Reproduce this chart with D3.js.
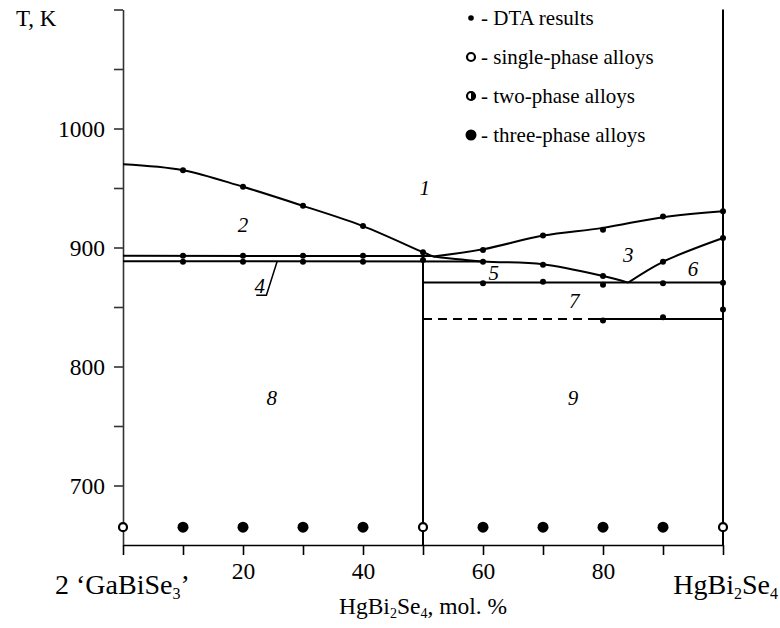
<!DOCTYPE html>
<html>
<head>
<meta charset="utf-8">
<script src="https://cdn.jsdelivr.net/npm/d3@7"></script>
<style>
  html, body { margin: 0; padding: 0; background: #fff; }
  svg { display: block; font-family: "Liberation Serif", "DejaVu Serif", serif; }
</style>
</head>
<body>
<svg id="chart" width="780" height="628"></svg>
<script>
// Phase diagram of the 2'GaBiSe3' – HgBi2Se4 section

// axis ticks
const xTicks = [0, 10, 20, 30, 40, 50, 60, 70, 80, 90, 100];
const xTickLabels = [20, 40, 60, 80];
const yTicks = [700, 750, 800, 850, 900, 950, 1000, 1050, 1100];
const yTickLabels = [700, 800, 900, 1000];

// phase boundaries: [mol.% HgBi2Se4, T in K]
const liquidusLeft  = [[0, 970], [10, 965], [20, 951], [30, 935], [40, 918], [50, 896], [51.7, 892.5]];
const liquidusRight = [[51.7, 892.5], [60, 898.5], [70, 910], [80, 916.5], [90, 925.5], [100, 930.5]];
const solidusRight  = [[51.7, 892.5], [60, 888.3], [70, 886], [80, 876], [84.2, 870.5]];
const curveRight    = [[84.2, 870.5], [90, 888], [100, 908]];
const upperLine     = [[0, 893], [51.7, 892.8]];
const lowerLine     = [[0, 888.5], [60, 888.3]];
const line870       = [[50, 870.5], [100, 870.5]];
const line840Dashed = [[50, 840], [78, 840]];
const line840Solid  = [[78, 840], [100, 840]];
const vertical50    = [[50, 896], [50, 650]];
const vertical100   = [[100, 650], [100, 1100]];

// DTA thermal effects
const dtaPoints = [
  [10, 965], [20, 951], [30, 935], [40, 918], [50, 896],
  [10, 893], [20, 893], [30, 893], [40, 893],
  [10, 888], [20, 888], [30, 888], [40, 888], [50, 889.5],
  [60, 898], [70, 910], [80, 915], [90, 926], [100, 930.5],
  [60, 888], [70, 885.5], [80, 876],
  [90, 888], [100, 908],
  [60, 870], [70, 871.3], [80, 868.7], [90, 870], [100, 870.3],
  [80, 838.6], [90, 841.4], [100, 848]
];

// XRD of annealed alloys
const alloyX     = [0, 10, 20, 30, 40, 50, 60, 70, 80, 90, 100];
const alloyT     = 665;
const alloyPhase = ["single", "three", "three", "three", "three", "single", "three", "three", "three", "three", "single"];

// phase field numbers
const fieldNames = ["1", "2", "3", "4", "5", "6", "7", "8", "9"];
const fieldX     = [50.3, 20, 84.2, 22.8, 61.8, 95, 75.2, 24.8, 75];
const fieldT     = [950, 919, 894, 868, 879, 882, 855, 774, 774];

const legendLabels = ["- DTA results", "- single-phase alloys", "- two-phase alloys", "- three-phase alloys"];
const legendKinds  = ["dta", "single", "two", "three"];

const svg = d3.select("#chart");
const x = d3.scaleLinear().domain([0, 100]).range([123, 723]);
const y = d3.scaleLinear().domain([650, 1100]).range([545, 9.5]);

const ink = "#000";
const serif = "Liberation Serif, DejaVu Serif, serif";

// axes
const yAxis = d3.axisLeft(y).tickValues(yTicks).tickSize(9).tickSizeOuter(0)
  .tickFormat(d => yTickLabels.includes(d) ? d : "");
const gy = svg.append("g").attr("transform", `translate(${x(0)},0)`).call(yAxis)
  .attr("font-family", serif);
gy.select(".domain").attr("stroke", "#333").attr("stroke-width", 1.6);
gy.selectAll(".tick line").attr("stroke", "#333").attr("stroke-width", 1.6);
gy.selectAll(".tick text").attr("font-size", 23.5).attr("fill", ink)
  .attr("x", -18).attr("dy", "0.36em");

const xAxis = d3.axisBottom(x).tickValues(xTicks).tickSize(10).tickSizeOuter(0)
  .tickFormat(d => xTickLabels.includes(d) ? d : "");
const gx = svg.append("g").attr("transform", `translate(0,${y(650)})`).call(xAxis)
  .attr("font-family", serif);
gx.select(".domain").attr("stroke", ink).attr("stroke-width", 1.6);
gx.selectAll(".tick line").attr("stroke", ink).attr("stroke-width", 1.6);
gx.selectAll(".tick text").attr("font-size", 23.5).attr("fill", ink).attr("y", 17);

// phase boundary lines
const straight = d3.line().x(d => x(d[0])).y(d => y(d[1]));
const smooth = d3.line().x(d => x(d[0])).y(d => y(d[1])).curve(d3.curveCatmullRom.alpha(0.5));

const lines = [
  [liquidusLeft, smooth, null],
  [liquidusRight, smooth, null],
  [solidusRight, smooth, null],
  [curveRight, smooth, null],
  [upperLine, straight, null],
  [lowerLine, straight, null],
  [line870, straight, null],
  [line840Dashed, straight, "9,6"],
  [line840Solid, straight, null],
  [vertical50, straight, null],
  [vertical100, straight, null]
];
svg.append("g").selectAll("path").data(lines).join("path")
  .attr("d", d => d[1](d[0]))
  .attr("fill", "none")
  .attr("stroke", ink)
  .attr("stroke-width", 2)
  .attr("stroke-dasharray", d => d[2]);

// DTA points
svg.append("g").selectAll("circle").data(dtaPoints).join("circle")
  .attr("cx", d => x(d[0])).attr("cy", d => y(d[1])).attr("r", 3).attr("fill", ink);

// phase composition markers
function marker(g, kind, cx, cy) {
  if (kind === "single") {
    g.append("circle").attr("cx", cx).attr("cy", cy).attr("r", 4).attr("fill", "#fff")
      .attr("stroke", ink).attr("stroke-width", 2.2);
  } else if (kind === "three") {
    g.append("circle").attr("cx", cx).attr("cy", cy).attr("r", 5.5).attr("fill", ink);
  } else if (kind === "two") {
    g.append("circle").attr("cx", cx).attr("cy", cy).attr("r", 4).attr("fill", "#fff")
      .attr("stroke", ink).attr("stroke-width", 2.2);
    g.append("path").attr("d", d3.arc()({innerRadius: 0, outerRadius: 4.5, startAngle: 0, endAngle: Math.PI}))
      .attr("transform", `translate(${cx},${cy})`).attr("fill", ink);
  } else {
    g.append("circle").attr("cx", cx).attr("cy", cy).attr("r", 2.8).attr("fill", ink);
  }
}
const gm = svg.append("g");
alloyX.forEach((v, i) => marker(gm, alloyPhase[i], x(v), y(alloyT)));

// phase field numbers
svg.append("g").selectAll("text").data(fieldNames).join("text")
  .attr("x", (d, i) => x(fieldX[i])).attr("y", (d, i) => y(fieldT[i]))
  .attr("dy", "0.35em").attr("text-anchor", "middle")
  .attr("font-size", 21).attr("font-style", "italic").attr("fill", ink)
  .text(d => d);

// leader for field 4
svg.append("path")
  .attr("d", straight([[22.2, 859.8], [23.9, 859.8], [25.7, 888.5]]))
  .attr("fill", "none").attr("stroke", ink).attr("stroke-width", 1.5);

// legend
const lg = svg.append("g");
legendLabels.forEach((t, i) => {
  const cy = 18 + i * 39;
  marker(lg, legendKinds[i], 471, cy);
  lg.append("text").attr("x", 481).attr("y", cy).attr("dy", "0.35em")
    .attr("font-size", 21).attr("fill", ink).text(t);
});

// axis title and compound names
svg.append("text").attr("x", 16).attr("y", 26).attr("font-size", 23).attr("fill", ink).text("T, K");

const left = svg.append("text").attr("x", 55).attr("y", 594).attr("font-size", 28).attr("fill", ink);
left.append("tspan").text("2 \u2018GaBiSe");
left.append("tspan").attr("font-size", 16).attr("dy", 5).text("3");
left.append("tspan").attr("dy", -5).text("\u2019");

const right = svg.append("text").attr("x", 778).attr("y", 594).attr("text-anchor", "end").attr("font-size", 28).attr("fill", ink);
right.append("tspan").text("HgBi");
right.append("tspan").attr("font-size", 16).attr("dy", 5).text("2");
right.append("tspan").attr("dy", -5).text("Se");
right.append("tspan").attr("font-size", 16).attr("dy", 5).text("4");

const title = svg.append("text").attr("x", 423).attr("y", 614).attr("text-anchor", "middle").attr("font-size", 23.5).attr("fill", ink);
title.append("tspan").text("HgBi");
title.append("tspan").attr("font-size", 14).attr("dy", 4).text("2");
title.append("tspan").attr("dy", -4).text("Se");
title.append("tspan").attr("font-size", 14).attr("dy", 4).text("4");
title.append("tspan").attr("dy", -4).text(", mol. %");
</script>
</body>
</html>
